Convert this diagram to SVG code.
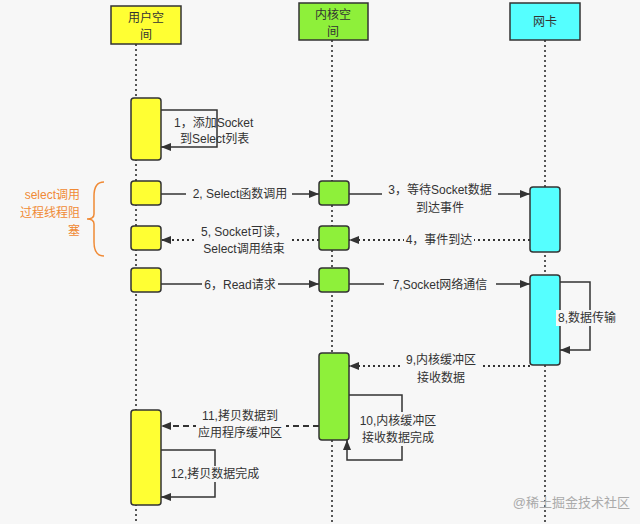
<svg xmlns="http://www.w3.org/2000/svg" width="640" height="524" viewBox="0 0 640 524">
<defs>
<marker id="ah" markerWidth="10" markerHeight="8" refX="10" refY="4" orient="auto" markerUnits="userSpaceOnUse"><path d="M0,0L10,4L0,8z" fill="#333"/></marker>
<style>
text{font-family:"Liberation Sans","Noto Sans CJK SC",sans-serif;font-size:12px;fill:#333}
.t{text-anchor:middle}
.ll{stroke:#222;stroke-width:1.5;stroke-dasharray:2,3;fill:none}
.y{fill:#ffff33;stroke:#333;stroke-width:1.5}
.g{fill:#8ef03a;stroke:#333;stroke-width:1.5}
.c{fill:#55ffff;stroke:#333;stroke-width:1.5}
.s{stroke:#333;stroke-width:1.5;fill:none;marker-end:url(#ah)}
.d{stroke:#333;stroke-width:2;stroke-dasharray:2,3;fill:none;marker-end:url(#ah)}
.dash{stroke:#333;stroke-width:2;stroke-dasharray:6,4;fill:none;marker-end:url(#ah)}
.bg{fill:#f7f7f7}
</style>
</defs>
<rect width="640" height="524" fill="#f7f7f7"/>
<g id="lifelines">
<line class="ll" x1="136" y1="44" x2="136" y2="524"/>
<line class="ll" x1="332" y1="40" x2="332" y2="524"/>
<line class="ll" x1="545" y1="40" x2="545" y2="524"/>
</g>
<g id="h-user"><rect x="111" y="6" width="70" height="38" class="y"/><text x="146" y="22" class="t">用户空</text><text x="146" y="39" class="t">间</text></g>
<g id="h-kernel"><rect x="299" y="3" width="69" height="37" class="g"/><text x="333" y="19" class="t">内核空</text><text x="333" y="36" class="t">间</text></g>
<g id="h-nic"><rect x="510" y="3" width="70" height="37" class="c"/><text x="545" y="26" class="t">网卡</text></g>
<g id="u1"><rect x="131" y="98" width="30" height="62" rx="3" class="y"/></g>
<g id="u2"><rect x="131" y="181" width="30" height="24" rx="3" class="y"/></g>
<g id="u3"><rect x="131" y="226" width="30" height="24" rx="3" class="y"/></g>
<g id="u4"><rect x="131" y="268" width="30" height="24" rx="3" class="y"/></g>
<g id="u5"><rect x="131" y="410" width="30" height="95" rx="3" class="y"/></g>
<g id="k1"><rect x="319" y="181" width="30" height="24" rx="3" class="g"/></g>
<g id="k2"><rect x="319" y="226" width="30" height="24" rx="3" class="g"/></g>
<g id="k3"><rect x="319" y="268" width="30" height="24" rx="3" class="g"/></g>
<g id="k4"><rect x="319" y="353" width="30" height="87" rx="3" class="g"/></g>
<g id="n1"><rect x="530" y="187" width="30" height="65" rx="3" class="c"/></g>
<g id="n2"><rect x="530" y="275" width="30" height="90" rx="3" class="c"/></g>
<g id="connectors">
<path class="s" d="M161,110H217V147H161"/>
<path class="s" d="M161,194H319"/>
<path class="s" d="M349,194H530"/>
<path class="d" d="M530,240H349"/>
<path class="d" d="M319,240H161"/>
<path class="s" d="M161,284H319"/>
<path class="s" d="M349,284H530"/>
<path class="s" d="M560,282H590V350H560"/>
<path class="d" d="M530,366H349"/>
<path class="s" d="M349,395H402V460H347V440"/>
<path class="dash" d="M319,426H161"/>
<path class="s" d="M161,450H215V497H161"/>
</g>
<g id="labels">
<rect x="172" y="114" width="44" height="30" class="bg"/>
<text x="174" y="127">1，添加Socket</text><text x="180" y="143">到Select列表</text>
<rect x="186" y="186" width="106" height="16" class="bg"/><text x="240" y="198" class="t">2, Select函数调用</text>
<rect x="382" y="180" width="116" height="36" class="bg"/><text x="440" y="194" class="t">3，等待Socket数据</text><text x="440" y="212" class="t">到达事件</text>
<rect x="404" y="232" width="70" height="16" class="bg"/><text x="439" y="244" class="t">4，事件到达</text>
<rect x="196" y="224" width="94" height="34" class="bg"/><text x="244" y="236" class="t">5, Socket可读，</text><text x="244" y="253" class="t">Select调用结束</text>
<rect x="202" y="276" width="76" height="16" class="bg"/><text x="240" y="289" class="t">6，Read请求</text>
<rect x="384" y="276" width="112" height="16" class="bg"/><text x="440" y="289" class="t">7,Socket网络通信</text>
<rect x="556" y="310" width="62" height="16" class="bg"/><text x="587" y="322" class="t">8,数据传输</text>
<rect x="400" y="352" width="82" height="34" class="bg"/><text x="441" y="364" class="t">9,内核缓冲区</text><text x="441" y="382" class="t">接收数据</text>
<rect x="356" y="412" width="86" height="34" class="bg"/><text x="398" y="425" class="t">10,内核缓冲区</text><text x="398" y="442" class="t">接收数据完成</text>
<rect x="196" y="408" width="90" height="34" class="bg"/><text x="240" y="420" class="t">11,拷贝数据到</text><text x="240" y="437" class="t">应用程序缓冲区</text>
<rect x="170" y="466" width="92" height="16" class="bg"/><text x="215" y="478" class="t">12,拷贝数据完成</text>
</g>
<g id="brace">
<path d="M104,182Q94,182 94,196V214Q94,219 87,219Q94,219 94,224V242Q94,256 104,256" fill="none" stroke="#f08a35" stroke-width="1.5"/>
<text x="80" y="199" style="fill:#f08a35;text-anchor:end">select调用</text>
<text x="80" y="217" style="fill:#f08a35;text-anchor:end">过程线程阻</text>
<text x="80" y="235" style="fill:#f08a35;text-anchor:end">塞</text>
</g>
<text x="630" y="507" style="fill:#aaa;text-anchor:end;font-size:13px">@稀土掘金技术社区</text>
</svg>
